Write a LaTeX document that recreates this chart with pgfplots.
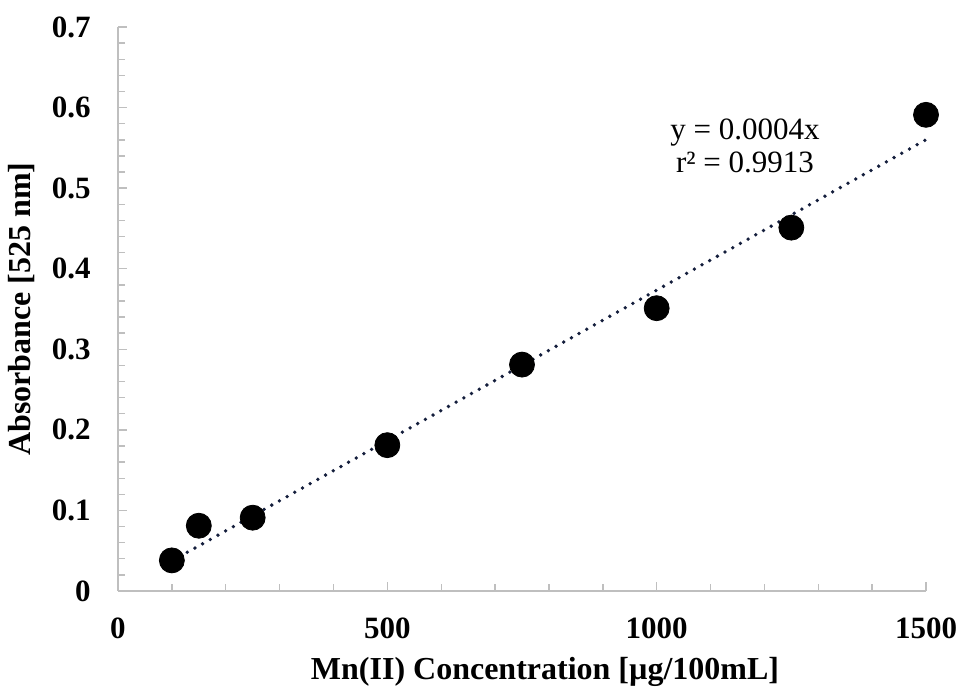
\documentclass[border=0pt]{standalone}
\usepackage{fontspec}
\setmainfont{Liberation Serif}
\usepackage{pgfplots}
\pgfplotsset{compat=1.18}
\definecolor{axisgray}{RGB}{191,191,191}
\definecolor{trendnavy}{RGB}{20,30,60}

\begin{document}
\begin{tikzpicture}
\path[use as bounding box] (-59pt,-49pt) rectangle (421.5pt,295.5pt);
\begin{axis}[
  at={(0,0)}, anchor=south west,
  scale only axis, width=404pt, height=282pt,
  xmin=0, xmax=1500, ymin=0, ymax=0.7,
  axis lines=left, axis line style={-, draw=axisgray, line width=0.8pt},
  tick align=inside, tick style={axisgray, line width=0.7pt},
  major tick length=4.5pt, minor tick length=3.5pt,
  xtick={0,500,1000,1500}, ytick={0,0.1,0.2,0.3,0.4,0.5,0.6,0.7},
  minor x tick num=4, minor y tick num=4,
  scaled ticks=false,
  /pgf/number format/assume math mode=true,
  /pgf/number format/1000 sep={},
  /pgf/number format/fixed,
  ticklabel style={font=\fontsize{15.5}{18}\selectfont\bfseries},
  yticklabel style={anchor=east, inner sep=0pt, xshift=-13.5pt},
  xticklabel style={anchor=north, inner sep=0pt, yshift=-13pt},
  xlabel={Mn(II) Concentration [µg/100mL]},
  ylabel={Absorbance [525 nm]},
  every axis x label/.style={at={(axis description cs:0.5285,-0.1436)}, anchor=center, font=\fontsize{16}{19}\selectfont\bfseries},
  every axis y label/.style={at={(axis description cs:-0.119,0.5)}, rotate=90, anchor=center, font=\fontsize{16}{19}\selectfont\bfseries},
  clip=false,
]
\addplot[only marks, mark=*, mark size=6.25pt, mark options={fill=black, draw=black}]
  coordinates {(100,0.038) (150,0.081) (250,0.091) (500,0.181) (750,0.281) (1000,0.351) (1250,0.451) (1500,0.591)};
\addplot[trendnavy, line width=1.9pt, line cap=round, dash pattern=on 0pt off 4.4pt]
  coordinates {(100,0.03734) (1500,0.5601)};
\node[align=center, font=\fontsize{15.5}{16.5}\selectfont] at (axis cs:1164,0.553) {y = 0.0004x\\r² = 0.9913};
\end{axis}
\end{tikzpicture}
\end{document}
